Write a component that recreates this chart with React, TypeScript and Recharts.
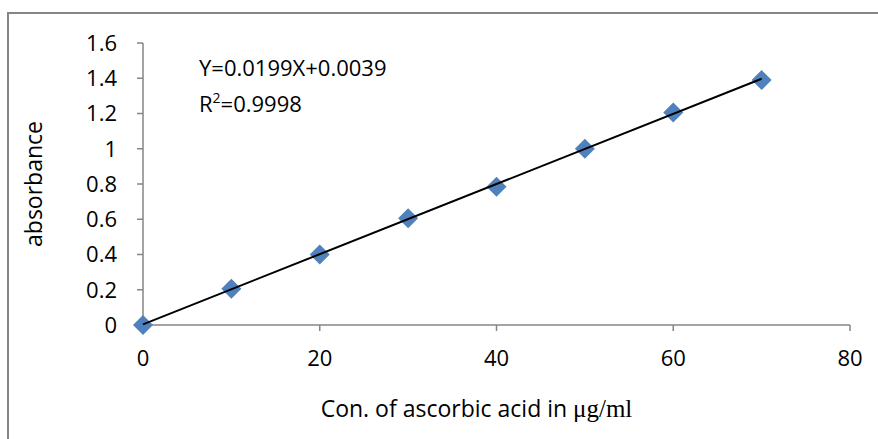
import { ScatterChart, Scatter, XAxis, YAxis, Label } from "recharts";

const concentrations = [0, 10, 20, 30, 40, 50, 60, 70];
const absorbances = [0, 0.205, 0.4, 0.605, 0.785, 1.0, 1.205, 1.39];
const xTicks = [0, 20, 40, 60, 80];
const yTicks = [0, 0.2, 0.4, 0.6, 0.8, 1, 1.2, 1.4, 1.6];
const slope = 0.0199;
const intercept = 0.0039;
const fitRange = [0, 70];

const points = concentrations.map((x, i) => ({ x, y: absorbances[i] }));
const fitLine = fitRange.map((x) => ({ x, y: slope * x + intercept }));

const FONT = "'Open Sans', sans-serif";
const AXIS = "#868686";

const Diamond = (props: any) => {
  const { cx, cy } = props;
  const r = 10;
  return (
    <polygon
      points={`${cx},${cy - r} ${cx + r},${cy} ${cx},${cy + r} ${cx - r},${cy}`}
      fill="#4F81BD"
    />
  );
};

const Nothing = () => <g />;

const XTitle = (props: any) => {
  const { viewBox } = props;
  const cx = viewBox.x + viewBox.width / 2 - 20;
  return (
    <text x={cx} y={408} textAnchor="middle" dominantBaseline="central" fontSize={23} fill="#000" fontFamily={FONT}>
      Con. of ascorbic acid in{" "}
      <tspan fontFamily="'Liberation Serif', serif" fontSize={25}>μg/ml</tspan>
    </text>
  );
};

const YTitle = () => (
  <text
    x={33}
    y={184}
    transform="rotate(-90, 33, 184)"
    textAnchor="middle"
    dominantBaseline="central"
    fontSize={23}
    fill="#000"
    fontFamily={FONT}
  >
    absorbance
  </text>
);

export default function App() {
  return (
    <div style={{ position: "absolute", left: 0, top: 0, width: 878, height: 439, background: "#fff", overflow: "hidden" }}>
      <div
        style={{
          position: "absolute",
          left: 7,
          top: 12,
          width: 900,
          height: 500,
          borderLeft: `2px solid ${AXIS}`,
          borderTop: `2px solid ${AXIS}`,
        }}
      />
      <ScatterChart width={878} height={439} margin={{ top: 43, right: 28, bottom: 0, left: 0 }} style={{ fontFamily: FONT }}>
        <XAxis
          type="number"
          dataKey="x"
          domain={[0, 80]}
          ticks={xTicks}
          height={114}
          stroke={AXIS}
          strokeWidth={1.5}
          tickSize={6}
          tickMargin={19}
          tick={{ fill: "#000", fontSize: 22, fontFamily: FONT }}
        >
          <Label content={<XTitle />} />
        </XAxis>
        <YAxis
          type="number"
          dataKey="y"
          domain={[0, 1.6]}
          ticks={yTicks}
          width={143}
          stroke={AXIS}
          strokeWidth={1.5}
          tickSize={6}
          tickMargin={20}
          tickFormatter={(v: number) => String(Number(v.toFixed(1)))}
          tick={{ fill: "#000", fontSize: 22, fontFamily: FONT }}
        >
          <Label content={<YTitle />} />
        </YAxis>
        <Scatter data={points} shape={<Diamond />} isAnimationActive={false} />
        <Scatter
          data={fitLine}
          shape={<Nothing />}
          line={{ stroke: "#000", strokeWidth: 2 }}
          isAnimationActive={false}
        />
      </ScatterChart>
      <div
        style={{
          position: "absolute",
          left: 199,
          top: 49,
          fontFamily: FONT,
          fontSize: 22,
          lineHeight: "36px",
          color: "#000",
          whiteSpace: "nowrap",
        }}
      >
        <div>Y=0.0199X+0.0039</div>
        <div>
          R<sup style={{ fontSize: 14, verticalAlign: "9px", lineHeight: 0 }}>2</sup>=0.9998
        </div>
      </div>
    </div>
  );
}
